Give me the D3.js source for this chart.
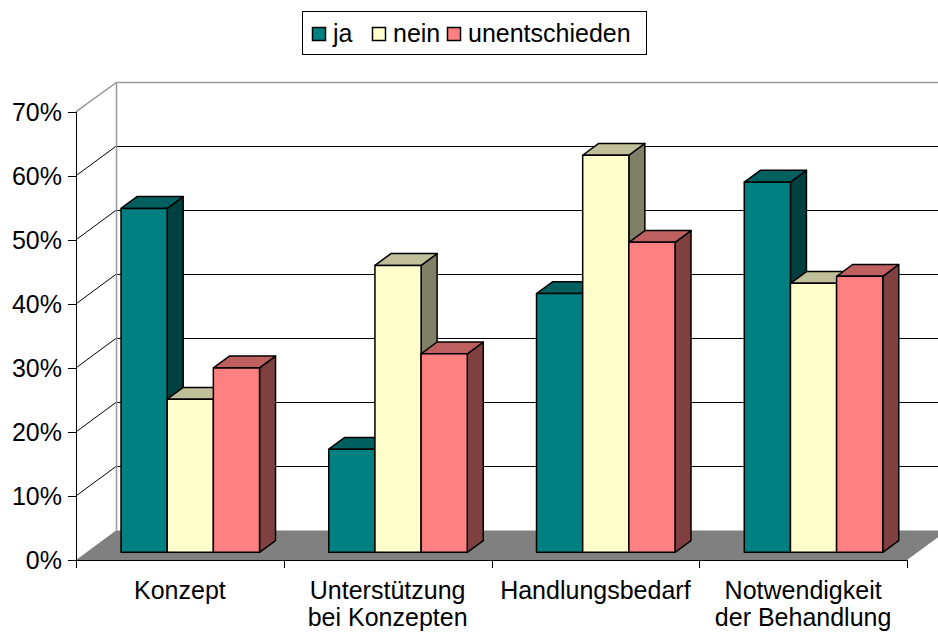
<!DOCTYPE html>
<html>
<head>
<meta charset="utf-8">
<script src="https://d3js.org/d3.v7.min.js"></script>
<style>
  body { margin: 0; background: #fff; }
  svg { display: block; font-family: "Liberation Sans", Arial, sans-serif; }
</style>
</head>
<body>
<svg id="chart" width="938" height="639"></svg>
<script>
// data (percent)
const categories = ["Konzept", "Unterstützung\nbei Konzepten", "Handlungsbedarf", "Notwendigkeit\nder Behandlung"];
const seriesNames = ["ja", "nein", "unentschieden"];
const ja = [53.7, 16.1, 40.4, 57.8];
const nein = [23.9, 44.8, 62.0, 42.0];
const unentschieden = [28.8, 31.0, 48.4, 43.1];
const yTicks = [0, 10, 20, 30, 40, 50, 60, 70];

const seriesValues = [ja, nein, unentschieden];
const colors = {
	ja: { front: "#008080", top: "#006060", side: "#004040" },
	nein: { front: "#ffffcc", top: "#bfbf99", side: "#808066" },
	unentschieden: { front: "#ff8080", top: "#bf6060", side: "#804040" }
};

const width = 938, height = 639;
const fontSize = 25;
const svg = d3.select("#chart");

// front plane of the plot + oblique depth offset
const x0 = 76, x1 = 907;
const DX = 40, DY = 29.5;
const barD0 = 0.26, barD1 = 0.66;

const y = d3.scaleLinear().domain([0, 70]).range([560, 111.7]);
const xCat = d3.scaleBand().domain(d3.range(categories.length)).range([x0, x1]);
const xSer = d3.scaleBand().domain(seriesNames).range([0, xCat.bandwidth()]).paddingInner(0).paddingOuter(0.75);

// point in the oblique projection: front-plane x, value, depth 0..1
const P = (x, v, d) => [x + d * DX, y(v) - d * DY];
const poly = pts => "M" + pts.map(p => p.join(",")).join("L") + "Z";

// floor
svg.append("path")
	.attr("d", poly([P(x0, 0, 0), P(x1, 0, 0), P(x1, 0, 1), P(x0, 0, 1)]))
	.attr("fill", "#808080");

// side wall grid lines
yTicks.filter(t => t > 0 && t < 70).forEach(t => {
	const a = P(x0, t, 0), b = P(x0, t, 1);
	svg.append("line")
		.attr("x1", a[0]).attr("y1", a[1]).attr("x2", b[0]).attr("y2", b[1])
		.attr("stroke", "#000").attr("stroke-width", 1);
});

// back wall grid lines
yTicks.filter(t => t > 0 && t < 70).forEach(t => {
	const a = P(x0, t, 1);
	svg.append("line")
		.attr("x1", a[0]).attr("y1", Math.round(a[1]) + 0.5).attr("x2", width).attr("y2", Math.round(a[1]) + 0.5)
		.attr("stroke", "#000").attr("stroke-width", 1);
});

// wall edges (grey)
const tl = P(x0, 70, 0), bl = P(x0, 70, 1), bb = P(x0, 0, 1);
svg.append("path")
	.attr("d", `M${tl[0]},${tl[1]}L${bl[0] + 0.5},${Math.round(bl[1]) + 0.5}L${width},${Math.round(bl[1]) + 0.5}`)
	.attr("fill", "none").attr("stroke", "#999").attr("stroke-width", 1.5);
svg.append("line")
	.attr("x1", bl[0] + 0.5).attr("y1", bl[1]).attr("x2", bb[0] + 0.5).attr("y2", bb[1])
	.attr("stroke", "#999").attr("stroke-width", 1.5);

// bars, left to right so later bars cover earlier side faces
const bars = svg.append("g");
categories.forEach((c, ci) => {
	seriesNames.forEach((s, si) => {
		const v = seriesValues[si][ci];
		const xa = xCat(ci) + xSer(s), xb = xa + xSer.bandwidth();
		const col = colors[s];
		const g = bars.append("g").attr("stroke", "#000").attr("stroke-width", 1.5).attr("stroke-linejoin", "round");
		g.append("path")
			.attr("d", poly([P(xb, 0, barD0), P(xb, 0, barD1), P(xb, v, barD1), P(xb, v, barD0)]))
			.attr("fill", col.side);
		g.append("path")
			.attr("d", poly([P(xa, v, barD0), P(xb, v, barD0), P(xb, v, barD1), P(xa, v, barD1)]))
			.attr("fill", col.top);
		g.append("path")
			.attr("d", poly([P(xa, 0, barD0), P(xb, 0, barD0), P(xb, v, barD0), P(xa, v, barD0)]))
			.attr("fill", col.front);
	});
});

// y axis
const yAxis = svg.append("g");
yAxis.append("line")
	.attr("x1", x0 + 0.5).attr("x2", x0 + 0.5).attr("y1", y(70)).attr("y2", y(0))
	.attr("stroke", "#000");
yTicks.forEach(t => {
	const yy = Math.round(y(t)) + 0.5;
	yAxis.append("line")
		.attr("x1", x0 - 8).attr("x2", x0).attr("y1", yy).attr("y2", yy)
		.attr("stroke", "#000");
	yAxis.append("text")
		.attr("x", 62).attr("y", y(t)).attr("dy", "0.36em")
		.attr("text-anchor", "end").attr("font-size", fontSize).attr("fill", "#000")
		.text(d3.format(".0%")(t / 100));
});

// x axis
const xAxis = svg.append("g");
xAxis.append("line")
	.attr("x1", x0).attr("x2", x1).attr("y1", y(0) + 0.5).attr("y2", y(0) + 0.5)
	.attr("stroke", "#000");
d3.range(categories.length + 1).forEach(i => {
	const xx = Math.round(x0 + i * xCat.step()) + 0.5;
	xAxis.append("line")
		.attr("x1", xx).attr("x2", xx).attr("y1", y(0)).attr("y2", y(0) + 8)
		.attr("stroke", "#000");
});
categories.forEach((c, ci) => {
	const t = xAxis.append("text")
		.attr("x", xCat(ci) + xCat.bandwidth() / 2).attr("y", 599)
		.attr("text-anchor", "middle").attr("font-size", fontSize).attr("fill", "#000");
	c.split("\n").forEach((line, li) => {
		t.append("tspan").attr("x", xCat(ci) + xCat.bandwidth() / 2).attr("dy", li ? 27 : 0).text(line);
	});
});

// legend
const legend = svg.append("g");
legend.append("rect")
	.attr("x", 302.5).attr("y", 11.5).attr("width", 344).attr("height", 43)
	.attr("fill", "#fff").attr("stroke", "#000");
const legendX = [312, 372, 447];
seriesNames.forEach((s, i) => {
	legend.append("rect")
		.attr("x", legendX[i] + 0.5).attr("y", 27.5).attr("width", 13).attr("height", 13)
		.attr("fill", colors[s].front).attr("stroke", "#000").attr("stroke-width", 1.5);
	legend.append("text")
		.attr("x", legendX[i] + 21).attr("y", 42)
		.attr("font-size", fontSize).attr("fill", "#000")
		.text(s);
});
</script>
</body>
</html>
